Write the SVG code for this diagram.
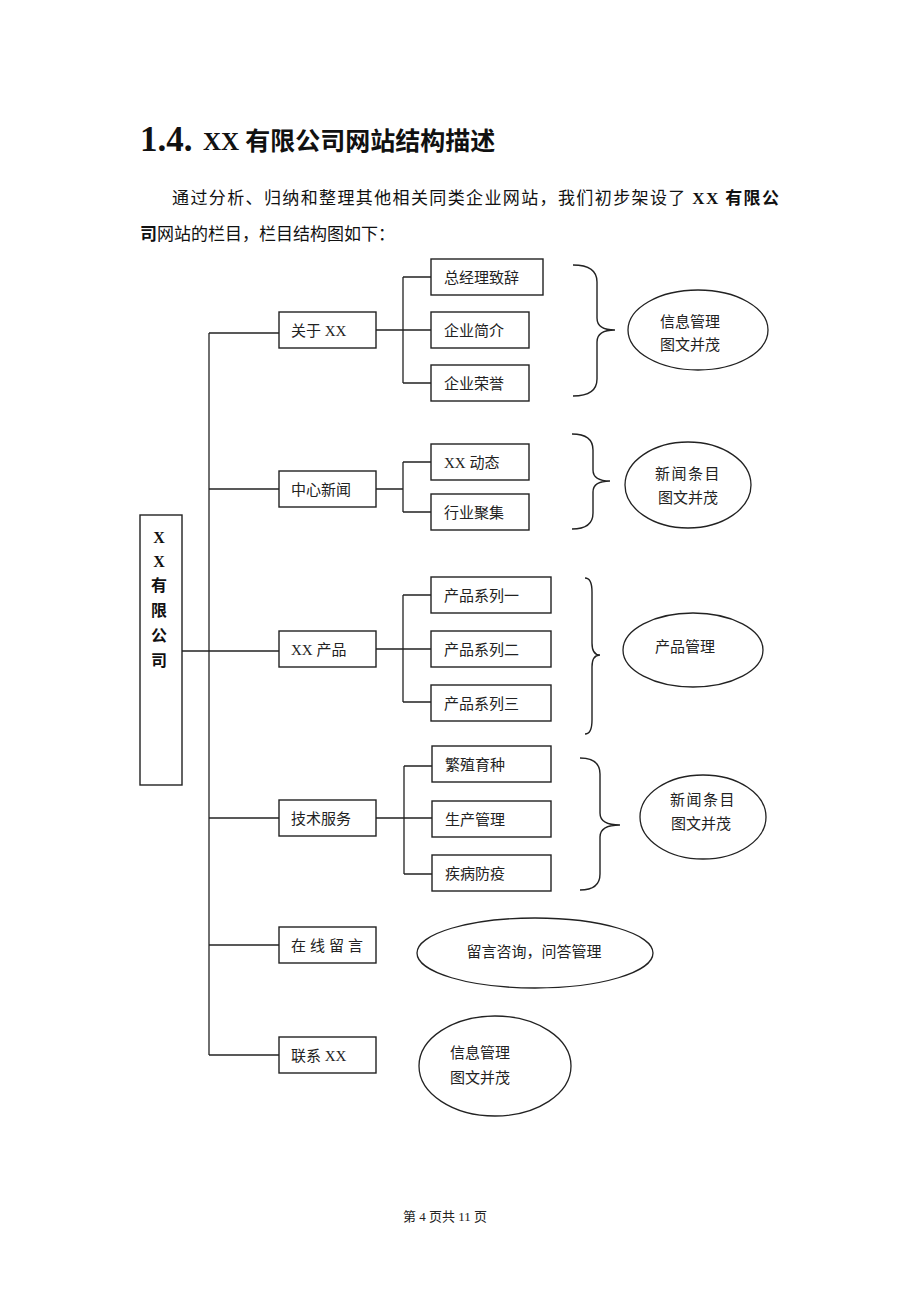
<svg xmlns="http://www.w3.org/2000/svg" width="920" height="1302" viewBox="0 0 920 1302">
<style>
  .bg{fill:#fff}
  .box{fill:#fff;stroke:#222;stroke-width:1.4}
  .ell{fill:#fff;stroke:#222;stroke-width:1.3}
  .ln{fill:none;stroke:#222;stroke-width:1.3}
  .br{fill:none;stroke:#222;stroke-width:1.4}
  .t{font-family:"Liberation Serif","Noto Sans CJK SC",serif;font-size:15px;fill:#222}
  .tc{font-family:"Liberation Serif","Noto Sans CJK SC",serif;font-size:15px;fill:#222;text-anchor:middle}
  .p{font-family:"Liberation Serif","Noto Sans CJK SC",serif;font-size:17px;fill:#111}
  .b{font-weight:bold}
  .v{font-family:"Liberation Serif","Noto Sans CJK SC",serif;font-size:16px;font-weight:bold;fill:#111;text-anchor:middle}
</style>
<rect class="bg" x="0" y="0" width="920" height="1302"/>

<g id="title">
  <text x="140" y="151" font-family="Liberation Serif, serif" font-size="35" font-weight="bold" fill="#111">1.4.</text>
  <text x="203" y="150" font-family="Liberation Serif, Noto Sans CJK SC, serif" font-size="25" font-weight="bold" fill="#111">XX 有限公司网站结构描述</text>
</g>

<g id="intro">
  <text class="p" x="172" y="204" textLength="607" lengthAdjust="spacing">通过分析、归纳和整理其他相关同类企业网站，我们初步架设了 <tspan class="b">XX 有限公</tspan></text>
  <text class="p" x="140" y="240"><tspan class="b">司</tspan>网站的栏目，栏目结构图如下：</text>
</g>

<g id="connectors">
  <path class="ln" d="M209 333 V1055"/>
  <path class="ln" d="M182 651 H279"/>
  <path class="ln" d="M209 333 H279"/>
  <path class="ln" d="M209 489 H279"/>
  <path class="ln" d="M209 818 H279"/>
  <path class="ln" d="M209 945 H279"/>
  <path class="ln" d="M209 1055 H279"/>
  <path class="ln" d="M376 330 H431 M403 277 V383 M403 277 H431 M403 383 H431"/>
  <path class="ln" d="M376 489 H403 M403 462 V512 M403 462 H431 M403 512 H431"/>
  <path class="ln" d="M376 649 H431 M403 595 V702 M403 595 H431 M403 702 H431"/>
  <path class="ln" d="M376 818 H432 M404 766 V874 M404 766 H432 M404 874 H432"/>
  <path class="br" d="M573 265 Q597 265 597 282 L597 318 Q597 330 615 330 Q597 330 597 342 L597 379 Q597 396 573 396"/>
  <path class="br" d="M572 434 Q593 434 593 450 L593 470 Q593 481 610 481 Q593 481 593 492 L593 513 Q593 529 572 529"/>
  <path class="br" d="M585 578 Q592 578 592 592 L592 643 Q592 655 600 655 Q592 655 592 667 L592 720 Q592 734 585 734"/>
  <path class="br" d="M580 758 Q600 758 600 774 L600 813 Q600 825 620 825 Q600 825 600 837 L600 874 Q600 890 580 890"/>
</g>

<g id="company">
  <rect class="box" x="140" y="515" width="42" height="270"/>
  <text class="v" x="159" y="543">X</text>
  <text class="v" x="159" y="567">X</text>
  <text class="v" x="159" y="591">有</text>
  <text class="v" x="159" y="616">限</text>
  <text class="v" x="159" y="641">公</text>
  <text class="v" x="159" y="666">司</text>
</g>

<g id="about">
  <rect class="box" x="279" y="312" width="97" height="36"/>
  <text class="t" x="291" y="336">关于 XX</text>
</g>
<g id="about-ceo">
  <rect class="box" x="431" y="259" width="112" height="36"/>
  <text class="t" x="444" y="283">总经理致辞</text>
</g>
<g id="about-intro">
  <rect class="box" x="431" y="312" width="98" height="36"/>
  <text class="t" x="444" y="336">企业简介</text>
</g>
<g id="about-honor">
  <rect class="box" x="431" y="365" width="98" height="36"/>
  <text class="t" x="444" y="389">企业荣誉</text>
</g>
<g id="about-note">
  <ellipse class="ell" cx="698" cy="330" rx="70" ry="40"/>
  <text class="tc" x="690" y="327">信息管理</text>
  <text class="tc" x="690" y="350">图文并茂</text>
</g>

<g id="news">
  <rect class="box" x="279" y="471" width="97" height="36"/>
  <text class="t" x="291" y="495">中心新闻</text>
</g>
<g id="news-dyn">
  <rect class="box" x="431" y="444" width="98" height="36"/>
  <text class="t" x="444" y="468">XX 动态</text>
</g>
<g id="news-ind">
  <rect class="box" x="431" y="494" width="98" height="36"/>
  <text class="t" x="444" y="518">行业聚集</text>
</g>
<g id="news-note">
  <ellipse class="ell" cx="688" cy="485" rx="63" ry="43"/>
  <text class="tc" x="688" y="479" letter-spacing="1.5">新闻条目</text>
  <text class="tc" x="688" y="503">图文并茂</text>
</g>

<g id="products">
  <rect class="box" x="279" y="631" width="97" height="36"/>
  <text class="t" x="291" y="655">XX 产品</text>
</g>
<g id="prod-1">
  <rect class="box" x="431" y="577" width="120" height="36"/>
  <text class="t" x="444" y="601">产品系列一</text>
</g>
<g id="prod-2">
  <rect class="box" x="431" y="631" width="120" height="36"/>
  <text class="t" x="444" y="655">产品系列二</text>
</g>
<g id="prod-3">
  <rect class="box" x="431" y="685" width="120" height="36"/>
  <text class="t" x="444" y="709">产品系列三</text>
</g>
<g id="prod-note">
  <ellipse class="ell" cx="693" cy="650" rx="70" ry="37"/>
  <text class="tc" x="685" y="652">产品管理</text>
</g>

<g id="tech">
  <rect class="box" x="279" y="800" width="97" height="36"/>
  <text class="t" x="291" y="824">技术服务</text>
</g>
<g id="tech-breed">
  <rect class="box" x="432" y="746" width="119" height="36"/>
  <text class="t" x="445" y="770">繁殖育种</text>
</g>
<g id="tech-prod">
  <rect class="box" x="432" y="801" width="119" height="36"/>
  <text class="t" x="445" y="825">生产管理</text>
</g>
<g id="tech-disease">
  <rect class="box" x="432" y="855" width="119" height="36"/>
  <text class="t" x="445" y="879">疾病防疫</text>
</g>
<g id="tech-note">
  <ellipse class="ell" cx="703" cy="817" rx="63" ry="42"/>
  <text class="tc" x="703" y="805" letter-spacing="1.5">新闻条目</text>
  <text class="tc" x="701" y="829">图文并茂</text>
</g>

<g id="message">
  <rect class="box" x="279" y="927" width="97" height="36"/>
  <text class="t" x="291" y="951" letter-spacing="4">在线留言</text>
</g>
<g id="message-note">
  <ellipse class="ell" cx="535" cy="953" rx="118" ry="35"/>
  <text class="tc" x="534" y="957">留言咨询，问答管理</text>
</g>

<g id="contact">
  <rect class="box" x="279" y="1037" width="97" height="36"/>
  <text class="t" x="291" y="1061">联系 XX</text>
</g>
<g id="contact-note">
  <ellipse class="ell" cx="495" cy="1066" rx="76" ry="50"/>
  <text class="t" x="450" y="1058">信息管理</text>
  <text class="t" x="450" y="1083">图文并茂</text>
</g>

<g id="footer">
  <text x="445" y="1221" font-family="Liberation Serif, Noto Sans CJK SC, serif" font-size="13" fill="#222" text-anchor="middle">第 4 页共 11 页</text>
</g>
</svg>
